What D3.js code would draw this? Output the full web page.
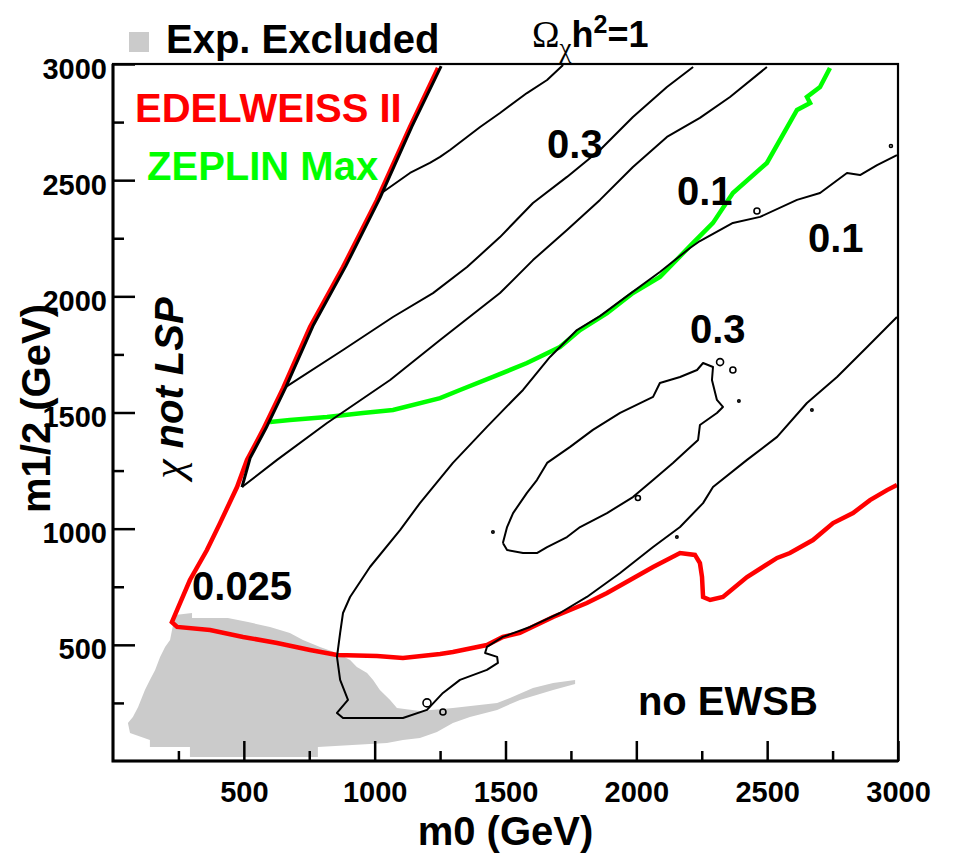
<!DOCTYPE html>
<html>
<head>
<meta charset="utf-8">
<script src="https://cdn.jsdelivr.net/npm/d3@7"></script>
<style>
  body { margin: 0; background: #fff; }
  text { font-family: "Liberation Sans", Arial, sans-serif; font-weight: bold; }
</style>
</head>
<body>
<div id="chart"></div>
<script>
// m0 / m1/2 plane, values in GeV: [m0, m1/2]
var xMajorTicks = [500, 1000, 1500, 2000, 2500, 3000];
var xMinorTicks = [250, 750, 1250, 1750, 2250, 2750];
var yMajorTicks = [500, 1000, 1500, 2000, 2500, 3000];
var yMinorTicks = [250, 750, 1250, 1750, 2250, 2750];

// experimentally excluded region (grey)
var excluded = [
  [218, 521], [237, 628], [302, 637], [302, 616], [439, 616], [516, 598], [600, 577],
  [676, 551], [726, 521], [791, 491], [856, 465], [906, 435], [932, 405], [971, 379],
  [994, 349], [1020, 306], [1059, 263], [1085, 228], [1173, 215], [1299, 228],
  [1468, 250], [1517, 271], [1605, 314], [1682, 336], [1766, 349], [1766, 331],
  [1682, 306], [1555, 263], [1468, 220], [1364, 189], [1299, 164], [1238, 125],
  [1173, 99], [1108, 90], [1047, 77], [783, 60], [783, 17], [294, 17], [294, 60],
  [141, 60], [141, 90], [65, 121], [57, 164], [76, 189], [96, 232], [122, 306],
  [141, 349], [161, 392], [180, 448], [199, 491]
];

// EDELWEISS II sensitivity
var edelweiss = [
  [1242, 2983], [1135, 2729], [1009, 2415], [879, 2126], [753, 1868], [650, 1605],
  [573, 1425], [512, 1296], [474, 1179], [409, 1024], [359, 908], [294, 779],
  [225, 598], [245, 577], [371, 564], [497, 534], [627, 508], [753, 478], [856, 456],
  [1009, 452], [1108, 443], [1250, 461], [1299, 469], [1429, 499], [1490, 534],
  [1555, 551], [1682, 620], [1811, 680], [1888, 723], [1976, 779], [2064, 835],
  [2167, 895], [2224, 887], [2243, 852], [2251, 792], [2255, 706], [2282, 693],
  [2331, 706], [2423, 792], [2538, 874], [2587, 895], [2675, 951], [2752, 1024],
  [2828, 1067], [2893, 1123], [2958, 1166], [2996, 1188]
];

// ZEPLIN Max sensitivity
var zeplin = [
  [600, 1459], [676, 1468], [818, 1481], [955, 1498], [1070, 1511], [1250, 1562],
  [1326, 1597], [1452, 1653], [1582, 1713], [1708, 1782], [1785, 1855], [1888, 1928],
  [1987, 2014], [2090, 2083], [2217, 2230], [2293, 2316], [2369, 2445], [2499, 2574],
  [2614, 2802], [2664, 2832], [2652, 2858], [2702, 2901], [2740, 2983]
];

// relic density contours, Omega h^2
var ridge = [
  [1254, 2991], [1143, 2733], [1020, 2423], [890, 2131], [764, 1872], [661, 1610],
  [585, 1433], [524, 1304], [493, 1179]
];
var omega1 = [
  [1032, 2449], [1135, 2531], [1211, 2574], [1250, 2600], [1288, 2630], [1403, 2729],
  [1479, 2789], [1582, 2875], [1659, 2931], [1720, 2996]
];
var omega03a = [
  [661, 1610], [879, 1769], [1070, 1911], [1223, 2014], [1353, 2126], [1479, 2255],
  [1605, 2402], [1735, 2514], [1861, 2630], [1987, 2772], [2117, 2901], [2217, 2987]
];
var omega03b = [
  [493, 1179], [627, 1296], [818, 1455], [1059, 1640], [1250, 1812], [1479, 2014],
  [1605, 2156], [1735, 2286], [1861, 2415], [1987, 2557], [2117, 2686], [2243, 2768],
  [2358, 2858], [2499, 2987]
];
var omega01 = [
  [2996, 2608], [2920, 2565], [2855, 2522], [2805, 2531], [2702, 2445], [2614, 2415],
  [2473, 2342], [2369, 2316], [2243, 2238], [2205, 2208], [2090, 2105], [1964, 2001],
  [1861, 1915], [1773, 1855], [1670, 1739], [1567, 1597], [1529, 1554], [1429, 1438],
  [1299, 1283], [1173, 1110], [1097, 994], [982, 835], [906, 706], [879, 637],
  [868, 551], [856, 448], [868, 349], [898, 263], [856, 207], [879, 185], [1108, 185],
  [1200, 220], [1261, 293], [1326, 349], [1429, 392], [1471, 422], [1468, 448],
  [1422, 465], [1429, 491], [1490, 534], [1594, 577], [1708, 637], [1811, 706],
  [1938, 809], [2064, 921], [2167, 1007], [2255, 1110], [2293, 1179], [2423, 1296],
  [2538, 1395], [2652, 1541], [2767, 1653], [2882, 1782], [2996, 1911]
];
var omega03loop = [
  [1490, 938], [1506, 1007], [1529, 1067], [1582, 1154], [1620, 1209], [1659, 1283],
  [1747, 1352], [1834, 1425], [1938, 1498], [2064, 1567], [2090, 1627], [2167, 1653],
  [2232, 1683], [2255, 1713], [2293, 1696], [2289, 1640], [2308, 1554], [2331, 1524],
  [2308, 1498], [2243, 1446], [2236, 1382], [2194, 1339], [2140, 1283], [2064, 1209],
  [1987, 1136], [1888, 1067], [1785, 1007], [1735, 964], [1659, 921], [1620, 895],
  [1567, 895], [1506, 908], [1490, 938]
];
// small isolated islands of the contours: [m0, m1/2, size]
var islands = [
  [2461, 2367, 3], [2973, 2647, 1.5], [2320, 1717, 3.5], [2369, 1683, 3],
  [2006, 1132, 2.5], [1452, 986, 1.2], [2155, 964, 1.2], [2671, 1511, 1.2],
  [2392, 1550, 1.2], [1200, 250, 4], [1261, 211, 3]
];

var svgWidth = 953;
var svgHeight = 856;
var margin = { top: 64, right: 55, bottom: 95, left: 113 };
var width = svgWidth - margin.left - margin.right;
var height = svgHeight - margin.top - margin.bottom;

var svg = d3.select("#chart").append("svg")
  .attr("width", svgWidth).attr("height", svgHeight);

var chartGroup = svg.append("g")
  .attr("transform", `translate(${margin.left}, ${margin.top})`);

var xScale = d3.scaleLinear().domain([0, 3000]).range([0, width]);
var yScale = d3.scaleLinear().domain([0, 3000]).range([height, 0]);

chartGroup.append("clipPath").attr("id", "frameClip")
  .append("rect").attr("width", width).attr("height", height);

var plot = chartGroup.append("g").attr("clip-path", "url(#frameClip)");

var line = d3.line().x(d => xScale(d[0])).y(d => yScale(d[1]));

plot.append("path")
  .attr("d", line(excluded) + "Z")
  .attr("fill", "#cbcbcb");

plot.append("path").attr("d", line(edelweiss))
  .attr("fill", "none").attr("stroke", "#ff0000").attr("stroke-width", 4.5);
plot.append("path").attr("d", line(zeplin))
  .attr("fill", "none").attr("stroke", "#00ff00").attr("stroke-width", 4.5);

[ridge, omega1, omega03a, omega03b, omega01, omega03loop].forEach(function(c, i) {
  plot.append("path").attr("d", line(c))
    .attr("fill", "none").attr("stroke", "#000")
    .attr("stroke-width", i == 0 ? 3 : 2)
    .attr("stroke-linejoin", "round");
});

plot.selectAll("circle.island").data(islands).enter()
  .append("circle")
  .attr("class", "island")
  .attr("cx", d => xScale(d[0]))
  .attr("cy", d => yScale(d[1]))
  .attr("r", d => d[2])
  .attr("fill", "none").attr("stroke", "#000").attr("stroke-width", 1.6);

// axes: ticks drawn inward, ROOT style
var fmt = d3.format("d");
var xMinor = d3.axisBottom(xScale).tickValues(xMinorTicks).tickSize(-10).tickFormat("");
var xMajor = d3.axisBottom(xScale).tickValues(xMajorTicks).tickSize(-20).tickSizeOuter(0).tickFormat(fmt);
var yMinor = d3.axisLeft(yScale).tickValues(yMinorTicks).tickSize(-11).tickFormat("");
var yMajor = d3.axisLeft(yScale).tickValues(yMajorTicks).tickSize(-22).tickSizeOuter(0).tickFormat(fmt);

[xMinor, xMajor].forEach(function(ax) {
  var g = chartGroup.append("g").attr("transform", `translate(0, ${height})`).call(ax);
  g.select(".domain").remove();
  g.selectAll("line").attr("stroke", "#000").attr("stroke-width", 2.5);
  g.selectAll("text").attr("y", 41).attr("dy", null)
    .style("font-size", "29px").attr("fill", "#000");
});
[yMinor, yMajor].forEach(function(ax) {
  var g = chartGroup.append("g").call(ax);
  g.select(".domain").remove();
  g.selectAll("line").attr("stroke", "#000").attr("stroke-width", 2.5);
  g.selectAll("text").attr("x", -6).attr("dy", 14)
    .style("font-size", "29px").attr("fill", "#000");
});

// frame
chartGroup.append("rect")
  .attr("width", width).attr("height", height)
  .attr("fill", "none").attr("stroke", "#000").attr("stroke-width", 2.2);
chartGroup.append("path")
  .attr("d", `M0,0V${height}H${width}`)
  .attr("fill", "none").attr("stroke", "#000").attr("stroke-width", 3);

// axis titles
chartGroup.append("text")
  .attr("x", width / 2).attr("y", height + 84)
  .attr("text-anchor", "middle").style("font-size", "40px")
  .text("m0 (GeV)");
chartGroup.append("text")
  .attr("transform", `translate(${50 - margin.left}, ${height / 2 - 4}) rotate(-90)`)
  .attr("text-anchor", "middle").style("font-size", "40px")
  .text("m1/2 (GeV)");

// legend above the frame
svg.append("rect").attr("x", 129).attr("y", 32).attr("width", 20).attr("height", 20)
  .attr("fill", "#cbcbcb");
svg.append("text").attr("x", 166).attr("y", 53).style("font-size", "40px")
  .text("Exp. Excluded");

var omegaLabel = svg.append("text").attr("x", 532).attr("y", 47).style("font-size", "36px");
omegaLabel.append("tspan").style("font-family", "'Liberation Serif', serif")
  .style("font-weight", "normal").style("font-size", "37px").text("\u03A9");
omegaLabel.append("tspan").attr("dy", 10).style("font-family", "'Liberation Serif', serif")
  .style("font-weight", "normal").style("font-size", "27px").text("\u03C7");
omegaLabel.append("tspan").attr("dy", -10).text("h");
omegaLabel.append("tspan").attr("dy", -14).style("font-size", "25px").text("2");
omegaLabel.append("tspan").attr("dy", 14).text("=1");

// annotations inside the frame, anchored in plane coordinates
var notes = [
  { text: "EDELWEISS II", m0: 84, m12: 2750, color: "#ff0000" },
  { text: "ZEPLIN Max", m0: 130, m12: 2501, color: "#00ff00" },
  { text: "0.3", m0: 1659, m12: 2595, color: "#000" },
  { text: "0.1", m0: 2155, m12: 2393, color: "#000" },
  { text: "0.1", m0: 2656, m12: 2191, color: "#000" },
  { text: "0.3", m0: 2205, m12: 1799, color: "#000" },
  { text: "0.025", m0: 302, m12: 693, color: "#000" },
  { text: "no EWSB", m0: 2006, m12: 198, color: "#000" }
];
chartGroup.selectAll("text.note").data(notes).enter()
  .append("text").attr("class", "note")
  .attr("x", d => xScale(d.m0)).attr("y", d => yScale(d.m12))
  .attr("fill", d => d.color).style("font-size", "40px")
  .text(d => d.text);

var lsp = chartGroup.append("text")
  .attr("transform", `translate(${xScale(268)}, ${yScale(1605)}) rotate(-90)`)
  .attr("text-anchor", "middle").style("font-size", "40px").style("font-style", "italic");
lsp.append("tspan").style("font-family", "'Liberation Serif', serif")
  .style("font-weight", "normal").style("font-size", "44px").text("\u03C7 ");
lsp.append("tspan").text("not LSP");
</script>
</body>
</html>
